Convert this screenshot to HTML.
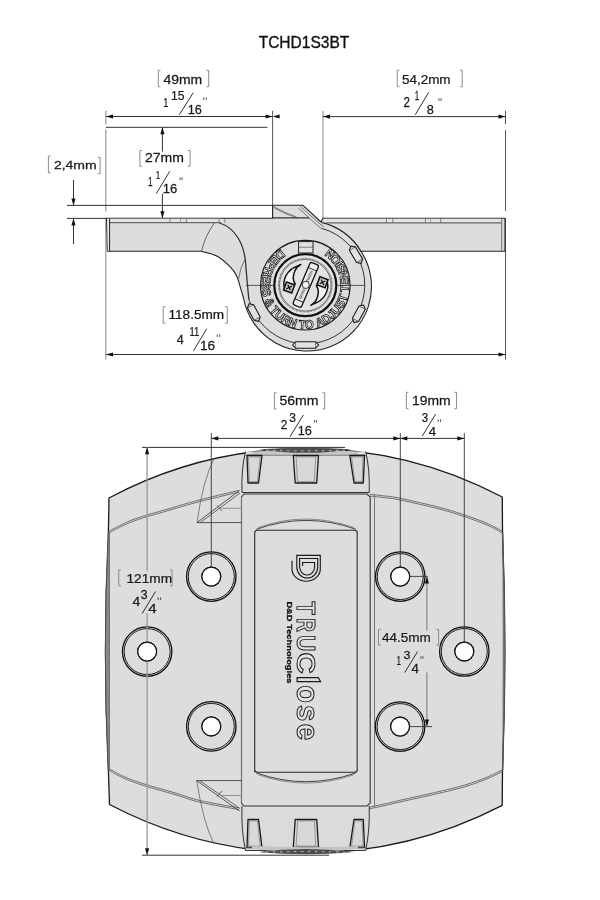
<!DOCTYPE html><html><head><meta charset="utf-8"><style>html,body{margin:0;padding:0;background:#fff;width:600px;height:900px;overflow:hidden}svg{display:block;filter:grayscale(1)}text{font-family:"Liberation Sans",sans-serif}</style></head><body><svg width="600" height="900" viewBox="0 0 600 900"><rect width="600" height="900" fill="#fff"/><text transform="translate(258.65,47.60) scale(0.922,1)" font-size="16.86" fill="#111" stroke="#111" stroke-width="0.35" >TCHD1S3BT</text>
<line x1="105.80" y1="110.80" x2="105.80" y2="124.60" stroke="#9a9a9a" stroke-width="1.2" />
<line x1="105.80" y1="129.60" x2="105.80" y2="211.50" stroke="#9a9a9a" stroke-width="1.2" />
<line x1="105.80" y1="218.50" x2="105.80" y2="359.20" stroke="#9a9a9a" stroke-width="1.2" />
<line x1="272.60" y1="110.80" x2="272.60" y2="218.30" stroke="#555" stroke-width="1.0" />
<line x1="323.00" y1="110.80" x2="323.00" y2="218.30" stroke="#9a9a9a" stroke-width="1.2" />
<line x1="505.50" y1="110.80" x2="505.50" y2="124.00" stroke="#555" stroke-width="1.0" />
<line x1="505.50" y1="130.00" x2="505.50" y2="211.00" stroke="#555" stroke-width="1.0" />
<line x1="505.50" y1="218.00" x2="505.50" y2="359.60" stroke="#555" stroke-width="1.0" />
<line x1="106.00" y1="116.50" x2="272.60" y2="116.50" stroke="#333" stroke-width="1.0" />
<polygon points="106.00,116.50 113.00,114.40 113.00,118.60" fill="#111"/>
<polygon points="272.60,116.50 265.60,114.40 265.60,118.60" fill="#111"/>
<polygon points="272.60,116.50 279.60,114.40 279.60,118.60" fill="#111"/>
<line x1="105.80" y1="127.30" x2="267.50" y2="127.30" stroke="#333" stroke-width="1.0" />
<path d="M160.50,70.40 H158.30 V86.70 H160.50" fill="none" stroke="#8a8a8a" stroke-width="1"/>
<path d="M206.50,70.40 H208.70 V86.70 H206.50" fill="none" stroke="#8a8a8a" stroke-width="1"/>
<text transform="translate(163.38,83.70) scale(1.145,1)" font-size="12.21" fill="#1a1a1a" stroke="#1a1a1a" stroke-width="0.25" >49mm</text>
<text transform="translate(163.29,106.70) scale(0.734,1)" font-size="12.65" fill="#1a1a1a" stroke="#1a1a1a" stroke-width="0.25" >1</text>
<text transform="translate(171.08,100.00) scale(0.955,1)" font-size="12.65" fill="#1a1a1a" stroke="#1a1a1a" stroke-width="0.25" >15</text>
<line x1="193.30" y1="92.70" x2="179.30" y2="114.70" stroke="#1a1a1a" stroke-width="0.9" />
<text transform="translate(187.73,114.00) scale(1.004,1)" font-size="12.65" fill="#1a1a1a" stroke="#1a1a1a" stroke-width="0.25" >16</text>
<line x1="203.75" y1="97.30" x2="203.75" y2="100.00" stroke="#222" stroke-width="0.75" />
<line x1="206.25" y1="97.30" x2="206.25" y2="100.00" stroke="#222" stroke-width="0.75" />
<line x1="323.00" y1="116.60" x2="505.50" y2="116.60" stroke="#333" stroke-width="1.0" />
<polygon points="323.00,116.60 330.00,114.50 330.00,118.70" fill="#111"/>
<polygon points="505.50,116.60 498.50,114.50 498.50,118.70" fill="#111"/>
<path d="M399.45,70.20 H397.25 V86.70 H399.45" fill="none" stroke="#8a8a8a" stroke-width="1"/>
<path d="M460.00,70.20 H462.20 V86.70 H460.00" fill="none" stroke="#8a8a8a" stroke-width="1"/>
<text transform="translate(401.96,83.50) scale(1.029,1)" font-size="13.08" fill="#1a1a1a" stroke="#1a1a1a" stroke-width="0.25" >54,2mm</text>
<text transform="translate(403.42,106.50) scale(0.813,1)" font-size="14.17" fill="#1a1a1a" stroke="#1a1a1a" stroke-width="0.25" >2</text>
<text transform="translate(414.64,99.75) scale(0.667,1)" font-size="11.99" fill="#1a1a1a" stroke="#1a1a1a" stroke-width="0.25" >1</text>
<line x1="428.75" y1="92.25" x2="415.25" y2="114.75" stroke="#1a1a1a" stroke-width="0.9" />
<text transform="translate(426.69,114.00) scale(0.977,1)" font-size="13.08" fill="#1a1a1a" stroke="#1a1a1a" stroke-width="0.25" >8</text>
<line x1="438.95" y1="98.25" x2="438.95" y2="100.95" stroke="#222" stroke-width="0.75" />
<line x1="441.05" y1="98.25" x2="441.05" y2="100.95" stroke="#222" stroke-width="0.75" />
<line x1="162.40" y1="127.30" x2="162.40" y2="151.70" stroke="#333" stroke-width="1.0" />
<line x1="162.40" y1="193.70" x2="162.40" y2="218.30" stroke="#333" stroke-width="1.0" />
<polygon points="162.40,127.30 160.30,134.30 164.50,134.30" fill="#111"/>
<polygon points="162.40,218.30 160.30,211.30 164.50,211.30" fill="#111"/>
<path d="M142.10,150.50 H139.90 V166.25 H142.10" fill="none" stroke="#8a8a8a" stroke-width="1"/>
<path d="M187.90,150.50 H190.10 V166.25 H187.90" fill="none" stroke="#8a8a8a" stroke-width="1"/>
<text transform="translate(145.04,162.40) scale(1.122,1)" font-size="12.50" fill="#1a1a1a" stroke="#1a1a1a" stroke-width="0.25" >27mm</text>
<text transform="translate(148.08,186.10) scale(0.635,1)" font-size="12.79" fill="#1a1a1a" stroke="#1a1a1a" stroke-width="0.25" >1</text>
<text transform="translate(155.63,178.50) scale(0.707,1)" font-size="11.48" fill="#1a1a1a" stroke="#1a1a1a" stroke-width="0.25" >1</text>
<line x1="169.70" y1="171.30" x2="156.25" y2="193.70" stroke="#1a1a1a" stroke-width="0.9" />
<text transform="translate(162.81,193.10) scale(1.091,1)" font-size="11.92" fill="#1a1a1a" stroke="#1a1a1a" stroke-width="0.25" >16</text>
<line x1="180.05" y1="177.30" x2="180.05" y2="180.00" stroke="#222" stroke-width="0.75" />
<line x1="182.05" y1="177.30" x2="182.05" y2="180.00" stroke="#222" stroke-width="0.75" />
<path d="M50.60,156.10 H48.40 V172.80 H50.60" fill="none" stroke="#8a8a8a" stroke-width="1"/>
<path d="M97.90,157.30 H100.10 V173.60 H97.90" fill="none" stroke="#8a8a8a" stroke-width="1"/>
<text transform="translate(53.90,169.30) scale(1.205,1)" font-size="11.63" fill="#1a1a1a" stroke="#1a1a1a" stroke-width="0.25" >2,4mm</text>
<line x1="73.50" y1="180.00" x2="73.50" y2="205.40" stroke="#333" stroke-width="1.0" />
<polygon points="73.50,205.40 71.40,198.40 75.60,198.40" fill="#111"/>
<line x1="73.50" y1="218.50" x2="73.50" y2="244.00" stroke="#333" stroke-width="1.0" />
<polygon points="73.50,218.50 71.40,225.50 75.60,225.50" fill="#111"/>
<line x1="67.00" y1="205.40" x2="272.60" y2="205.40" stroke="#333" stroke-width="1.0" />
<line x1="67.00" y1="218.40" x2="108.00" y2="218.40" stroke="#333" stroke-width="1.0" />
<line x1="106.00" y1="354.50" x2="505.50" y2="354.50" stroke="#333" stroke-width="1.0" />
<polygon points="106.00,354.50 113.00,352.40 113.00,356.60" fill="#111"/>
<polygon points="505.50,354.50 498.50,352.40 498.50,356.60" fill="#111"/>
<path d="M165.40,306.70 H163.20 V323.20 H165.40" fill="none" stroke="#8a8a8a" stroke-width="1"/>
<path d="M225.05,306.70 H227.25 V323.20 H225.05" fill="none" stroke="#8a8a8a" stroke-width="1"/>
<text transform="translate(168.46,319.45) scale(1.075,1)" font-size="12.65" fill="#1a1a1a" stroke="#1a1a1a" stroke-width="0.25" >118.5mm</text>
<text transform="translate(176.71,343.75) scale(1.006,1)" font-size="12.43" fill="#1a1a1a" stroke="#1a1a1a" stroke-width="0.25" >4</text>
<text transform="translate(189.48,336.25) scale(0.758,1)" font-size="12.43" fill="#1a1a1a" stroke="#1a1a1a" stroke-width="0.25" >11</text>
<line x1="206.70" y1="328.75" x2="193.50" y2="350.80" stroke="#1a1a1a" stroke-width="0.9" />
<text transform="translate(199.96,350.20) scale(1.076,1)" font-size="12.65" fill="#1a1a1a" stroke="#1a1a1a" stroke-width="0.25" >16</text>
<line x1="217.20" y1="334.30" x2="217.20" y2="337.00" stroke="#222" stroke-width="0.75" />
<line x1="219.75" y1="334.30" x2="219.75" y2="337.00" stroke="#222" stroke-width="0.75" />
<path d="M106.6,218.3 L272.6,218.3 L272.6,205.3 L303,205.3 L321,222 L323,218.3 L505,218.3 L505,251.3 L361,251.3 A64.5,64.5 0 1 1 243.5,298  C243.13,296.78 242.43,294.37 241.30,290.70 C240.17,287.03 238.58,280.00 236.70,276.00 C234.82,272.00 233.33,270.03 230.00,266.70 C226.67,263.37 221.58,258.57 216.70,256.00 C211.82,253.43 203.37,252.08 200.70,251.30 L107.4,251.3 Z" fill="#dddddd" stroke="#222" stroke-width="1.1" stroke-linejoin="round"/>
<rect x="110" y="218.8" width="111" height="3.9" fill="#e3e3e3"/>
<rect x="324" y="218.8" width="177.5" height="3.9" fill="#e3e3e3"/>
<line x1="109.00" y1="222.70" x2="221.00" y2="222.70" stroke="#3a3a3a" stroke-width="0.9" />
<line x1="326.00" y1="222.90" x2="501.70" y2="222.90" stroke="#3a3a3a" stroke-width="0.9" />
<line x1="501.70" y1="219.00" x2="501.70" y2="251.00" stroke="#555" stroke-width="0.8" />
<path d="M107.2,218.8 L109.6,218.8 L109.6,251 L107.8,251 Z" fill="#eaeaea"/>
<line x1="109.60" y1="218.80" x2="109.60" y2="251.00" stroke="#222" stroke-width="1.0" />
<path d="M170,218.5 V222.7 M186.3,218.5 V222.7" stroke="#555" stroke-width="0.7"/>
<path d="M219,218.5 V222.7 M224.8,218.5 V222.7" stroke="#555" stroke-width="0.7"/>
<path d="M386.5,218.5 V222.7 M392.8,218.5 V222.7" stroke="#555" stroke-width="0.7"/>
<path d="M425.5,218.5 V222.7 M440.7,218.5 V222.7" stroke="#555" stroke-width="0.7"/>
<line x1="180.50" y1="218.50" x2="180.50" y2="222.70" stroke="#777" stroke-width="0.6" />
<line x1="430.50" y1="218.50" x2="430.50" y2="222.70" stroke="#777" stroke-width="0.6" />
<path d="M272.6,206 Q284,212.5 296.5,217" fill="none" stroke="#555" stroke-width="0.7"/>
<path d="M273.5,207.6 Q285,214 297,218" fill="none" stroke="#555" stroke-width="0.7"/>
<line x1="272.60" y1="217.90" x2="309.00" y2="217.90" stroke="#333" stroke-width="1.1" />
<path d="M300.5,206.5 L318,222.3 Q321,225 324,227" fill="none" stroke="#444" stroke-width="0.7"/>
<path d="M298.5,208 L313,221.5 Q318,226 322.5,229.5" fill="none" stroke="#444" stroke-width="0.7"/>
<path d="M214.3,223 Q205,236 201.5,251.5" fill="none" stroke="#444" stroke-width="0.8"/>
<path d="M219.5,223 C236,228 244,245 245.5,262 C247,280 248,292 249,300" fill="none" stroke="#333" stroke-width="1.3"/>
<path d="M244.7,260 Q240,268 238.7,278.7" fill="none" stroke="#444" stroke-width="0.7"/>
<path d="M321.60,222.42 A64.5,64.5 0 0 1 361.11,251.49" fill="none" stroke="#222" stroke-width="1.3"/>
<path d="M322.21,228.48 A58.8,58.8 0 1 1 249.20,300.22" fill="none" stroke="#333" stroke-width="1.0"/>
<g transform="translate(305.6,345) rotate(0)"><polygon points="-13.00,0.00 -10.00,-3.25 10.00,-3.25 13.00,0.00 10.00,3.25 -10.00,3.25" fill="#e2e2e2" stroke="#1a1a1a" stroke-width="1.1"/><line x1="-10.0" y1="-3.25" x2="-10.0" y2="3.25" stroke="#444" stroke-width="0.7"/><line x1="10.0" y1="-3.25" x2="10.0" y2="3.25" stroke="#444" stroke-width="0.7"/></g>
<g transform="translate(253.8,312.5) rotate(62)"><polygon points="-10.00,0.00 -7.00,-3.50 7.00,-3.50 10.00,0.00 7.00,3.50 -7.00,3.50" fill="#e2e2e2" stroke="#1a1a1a" stroke-width="1.1"/><line x1="-7.0" y1="-3.5" x2="-7.0" y2="3.5" stroke="#444" stroke-width="0.7"/><line x1="7.0" y1="-3.5" x2="7.0" y2="3.5" stroke="#444" stroke-width="0.7"/></g>
<g transform="translate(358.8,313.8) rotate(-61.5)"><polygon points="-10.00,0.00 -7.00,-3.50 7.00,-3.50 10.00,0.00 7.00,3.50 -7.00,3.50" fill="#e2e2e2" stroke="#1a1a1a" stroke-width="1.1"/><line x1="-7.0" y1="-3.5" x2="-7.0" y2="3.5" stroke="#444" stroke-width="0.7"/><line x1="7.0" y1="-3.5" x2="7.0" y2="3.5" stroke="#444" stroke-width="0.7"/></g>
<g transform="translate(356,254.7) rotate(59)"><polygon points="-10.00,0.00 -7.00,-3.50 7.00,-3.50 10.00,0.00 7.00,3.50 -7.00,3.50" fill="#e2e2e2" stroke="#1a1a1a" stroke-width="1.1"/><line x1="-7.0" y1="-3.5" x2="-7.0" y2="3.5" stroke="#444" stroke-width="0.7"/><line x1="7.0" y1="-3.5" x2="7.0" y2="3.5" stroke="#444" stroke-width="0.7"/></g>
<circle cx="305.3" cy="285.2" r="44.8" fill="#dddddd" stroke="#1a1a1a" stroke-width="1.1"/>
<g font-size="12" font-weight="bold" fill="#eeeeee" stroke="#1a1a1a" stroke-width="0.8"><text transform="translate(277.61,251.52) rotate(-219.42) scale(0.953,1)" text-anchor="middle">D</text><text transform="translate(271.97,257.09) rotate(-229.86) scale(0.953,1)" text-anchor="middle">E</text><text transform="translate(267.59,263.32) rotate(-239.88) scale(0.953,1)" text-anchor="middle">P</text><text transform="translate(264.25,270.51) rotate(-250.32) scale(0.953,1)" text-anchor="middle">R</text><text transform="translate(262.27,278.19) rotate(-260.75) scale(0.953,1)" text-anchor="middle">E</text><text transform="translate(261.70,285.79) rotate(-270.77) scale(0.953,1)" text-anchor="middle">S</text><text transform="translate(262.47,293.37) rotate(-280.79) scale(0.953,1)" text-anchor="middle">S</text><text transform="translate(265.92,303.90) rotate(-295.40) scale(0.953,1)" text-anchor="middle">&amp;</text><text transform="translate(271.70,312.99) rotate(-309.59) scale(0.953,1)" text-anchor="middle">T</text><text transform="translate(277.05,318.41) rotate(-319.61) scale(0.953,1)" text-anchor="middle">U</text><text transform="translate(283.80,323.13) rotate(-330.46) scale(0.953,1)" text-anchor="middle">R</text><text transform="translate(291.33,326.50) rotate(-341.31) scale(0.953,1)" text-anchor="middle">N</text><text transform="translate(301.87,328.67) rotate(-355.49) scale(0.953,1)" text-anchor="middle">T</text><text transform="translate(309.80,328.57) rotate(-365.92) scale(0.953,1)" text-anchor="middle">O</text><text transform="translate(321.19,325.80) rotate(-381.37) scale(0.953,1)" text-anchor="middle">A</text><text transform="translate(328.54,322.09) rotate(-392.22) scale(0.953,1)" text-anchor="middle">D</text><text transform="translate(334.37,317.69) rotate(-401.82) scale(0.953,1)" text-anchor="middle">J</text><text transform="translate(339.39,312.39) rotate(-411.42) scale(0.953,1)" text-anchor="middle">U</text><text transform="translate(343.75,305.76) rotate(-421.86) scale(0.953,1)" text-anchor="middle">S</text><text transform="translate(346.64,299.07) rotate(-431.46) scale(0.953,1)" text-anchor="middle">T</text><text transform="translate(348.72,289.14) rotate(-444.81) scale(0.953,1)" text-anchor="middle">T</text><text transform="translate(348.77,281.85) rotate(-454.41) scale(0.953,1)" text-anchor="middle">E</text><text transform="translate(347.45,274.03) rotate(-464.84) scale(0.953,1)" text-anchor="middle">N</text><text transform="translate(344.72,266.58) rotate(-475.28) scale(0.953,1)" text-anchor="middle">S</text><text transform="translate(342.12,261.85) rotate(-482.38) scale(0.953,1)" text-anchor="middle">I</text><text transform="translate(338.55,257.00) rotate(-490.31) scale(0.953,1)" text-anchor="middle">O</text><text transform="translate(332.40,251.04) rotate(-501.58) scale(0.953,1)" text-anchor="middle">N</text></g>
<line x1="246.00" y1="285.40" x2="273.00" y2="285.40" stroke="#333" stroke-width="0.8" />
<line x1="337.50" y1="285.40" x2="364.50" y2="285.40" stroke="#333" stroke-width="0.8" />
<rect x="298.6" y="241.6" width="14.4" height="11.4" fill="#e2e2e2" stroke="#222" stroke-width="1"/>
<line x1="298.60" y1="247.20" x2="313.00" y2="247.20" stroke="#555" stroke-width="0.7" />
<circle cx="305.3" cy="285.2" r="31" fill="#e3e3e3" stroke="#111" stroke-width="2.2"/>
<circle cx="305.3" cy="285.2" r="26.7" fill="none" stroke="#666" stroke-width="1.4" stroke-dasharray="0.7,0.7"/>
<circle cx="305.3" cy="285.2" r="25.8" fill="none" stroke="#333" stroke-width="0.6"/>
<path d="M300.80,264.50 C299.22,265.30 293.75,267.50 291.30,269.30 C288.85,271.10 287.33,273.13 286.10,275.30 C284.87,277.47 284.20,280.27 283.90,282.30 C283.60,284.33 284.23,286.63 284.30,287.50 L295.20,284.00 C294.90,283.28 293.62,281.43 293.40,279.70 C293.18,277.97 293.32,275.63 293.90,273.60 C294.48,271.57 295.75,269.02 296.90,267.50 C298.05,265.98 300.15,265.00 300.80,264.50 Z" fill="#f2f2f2" stroke="#111" stroke-width="1.5" stroke-linejoin="round"/>
<path d="M310.80,305.30 C312.38,304.50 317.85,302.30 320.30,300.50 C322.75,298.70 324.27,296.67 325.50,294.50 C326.73,292.33 327.40,289.53 327.70,287.50 C328.00,285.47 327.37,283.17 327.30,282.30 L316.40,285.80 C316.70,286.52 317.98,288.37 318.20,290.10 C318.42,291.83 318.28,294.17 317.70,296.20 C317.12,298.23 315.85,300.78 314.70,302.30 C313.55,303.82 311.45,304.80 310.80,305.30 Z" fill="#f2f2f2" stroke="#111" stroke-width="1.5" stroke-linejoin="round"/>
<g transform="translate(289.1,287.5) rotate(20)"><rect x="-4.3" y="-4.3" width="8.6" height="8.6" fill="#d0d0d0" stroke="#111" stroke-width="1.6"/><path d="M-2.2,-2.2 L2.2,2.2 M2.2,-2.2 L-2.2,2.2" stroke="#111" stroke-width="1.3"/></g>
<g transform="translate(322.5,282.3) rotate(20)"><rect x="-4.3" y="-4.3" width="8.6" height="8.6" fill="#d0d0d0" stroke="#111" stroke-width="1.6"/><path d="M-2.2,-2.2 L2.2,2.2 M2.2,-2.2 L-2.2,2.2" stroke="#111" stroke-width="1.3"/></g>
<g transform="translate(305.8,284.9) rotate(-67)"><rect x="-23" y="-4.6" width="46" height="9.2" rx="2.2" fill="#ececec" stroke="#111" stroke-width="1.3"/><line x1="-17" y1="-4.6" x2="-17" y2="4.6" stroke="#222" stroke-width="0.9"/><line x1="17" y1="-4.6" x2="17" y2="4.6" stroke="#222" stroke-width="0.9"/><line x1="-15" y1="0" x2="-4" y2="0" stroke="#555" stroke-width="3" stroke-dasharray="0.6,0.7"/><line x1="4" y1="0" x2="15" y2="0" stroke="#555" stroke-width="3" stroke-dasharray="0.6,0.7"/></g>
<circle cx="305.8" cy="284.9" r="3.6" fill="#f2f2f2" stroke="#222" stroke-width="0.9"/>
<path d="M109,498 A419.5,419.5 0 0 1 502.3,497 L502.5,532 Q507.3,651 502.5,770.5 L502.2,805.3 A425.4,425.4 0 0 1 109.5,804.5 L108.4,770.7 Q102.5,651 108.4,532 Z" fill="#dddddd" stroke="#1a1a1a" stroke-width="1.3" stroke-linejoin="round"/>
<path d="M108.4,532 Q102.5,651 108.4,770.7 L109.4,770.7 L109.4,532 Z" fill="#8a8a8a" stroke="#555" stroke-width="0.8"/>
<path d="M502.5,532 Q507.3,651 502.5,770.5 L502.9,770.5 Q503.6,651 502.9,532 Z" fill="#8a8a8a" stroke="#555" stroke-width="0.8"/>
<path d="M108.50,531.40 C111.08,530.08 118.75,525.87 124.00,523.50 C129.25,521.13 132.33,519.72 140.00,517.20 C147.67,514.68 160.50,511.17 170.00,508.40 C179.50,505.63 185.50,503.62 197.00,500.60 C208.50,497.58 232.00,492.02 239.00,490.30" fill="none" stroke="#4a4a4a" stroke-width="0.75"/>
<path d="M108.50,533.10 C111.08,531.78 118.75,527.57 124.00,525.20 C129.25,522.83 132.33,521.42 140.00,518.90 C147.67,516.38 160.50,512.87 170.00,510.10 C179.50,507.33 185.50,505.32 197.00,502.30 C208.50,499.28 232.00,493.72 239.00,492.00" fill="none" stroke="#4a4a4a" stroke-width="0.75"/>
<path d="M369.70,494.30 C372.25,494.58 379.95,495.35 385.00,496.00 C390.05,496.65 390.83,496.28 400.00,498.20 C409.17,500.12 429.23,504.70 440.00,507.50 C450.77,510.30 456.80,512.38 464.60,515.00 C472.40,517.62 480.52,520.50 486.80,523.20 C493.08,525.90 499.72,529.87 502.30,531.20" fill="none" stroke="#4a4a4a" stroke-width="0.75"/>
<path d="M369.70,496.00 C372.25,496.28 379.95,497.05 385.00,497.70 C390.05,498.35 390.83,497.98 400.00,499.90 C409.17,501.82 429.23,506.40 440.00,509.20 C450.77,512.00 456.80,514.08 464.60,516.70 C472.40,519.32 480.52,522.20 486.80,524.90 C493.08,527.60 499.72,531.57 502.30,532.90" fill="none" stroke="#4a4a4a" stroke-width="0.75"/>
<path d="M109.50,770.60 C111.92,771.88 118.42,775.85 124.00,778.30 C129.58,780.75 134.50,782.58 143.00,785.30 C151.50,788.02 165.50,791.78 175.00,794.60 C184.50,797.42 189.33,799.70 200.00,802.20 C210.67,804.70 232.50,808.37 239.00,809.60" fill="none" stroke="#4a4a4a" stroke-width="0.75"/>
<path d="M109.50,768.90 C111.92,770.18 118.42,774.15 124.00,776.60 C129.58,779.05 134.50,780.88 143.00,783.60 C151.50,786.32 165.50,790.08 175.00,792.90 C184.50,795.72 189.33,798.00 200.00,800.50 C210.67,803.00 232.50,806.67 239.00,807.90" fill="none" stroke="#4a4a4a" stroke-width="0.75"/>
<path d="M368.50,809.00 C371.25,808.42 379.75,806.67 385.00,805.50 C390.25,804.33 390.83,804.08 400.00,802.00 C409.17,799.92 429.23,795.53 440.00,793.00 C450.77,790.47 456.80,789.13 464.60,786.80 C472.40,784.47 480.52,781.55 486.80,779.00 C493.08,776.45 499.72,772.75 502.30,771.50" fill="none" stroke="#4a4a4a" stroke-width="0.75"/>
<path d="M368.50,807.30 C371.25,806.72 379.75,804.97 385.00,803.80 C390.25,802.63 390.83,802.38 400.00,800.30 C409.17,798.22 429.23,793.83 440.00,791.30 C450.77,788.77 456.80,787.43 464.60,785.10 C472.40,782.77 480.52,779.85 486.80,777.30 C493.08,774.75 499.72,771.05 502.30,769.80" fill="none" stroke="#4a4a4a" stroke-width="0.75"/>
<path d="M245.5,451.5 Q241,470 242,492.5 L369.2,492.5 Q370,470 365.7,451.5" fill="#dbdbdb" stroke="#333" stroke-width="1"/>
<path d="M252,452.3 Q305,445 358,452.3 L358,455 Q305,452.5 252,455 Z" fill="#c4c4c4"/>
<path d="M259,449.2 Q305,446.8 352,449.2 Q305,456.5 259,449.2 Z" fill="#4d4d4d"/>
<path d="M266,450.2 Q305,451.6 345,450.2" fill="none" stroke="#c8c8c8" stroke-width="0.9" stroke-dasharray="2.5,4.5"/>
<line x1="245.50" y1="455.20" x2="366.00" y2="455.20" stroke="#555" stroke-width="0.8" />
<polygon points="247.00,455.50 262.00,455.50 258.50,483.00 248.00,483.00" fill="#d8d8d8" stroke="#1a1a1a" stroke-width="1.3" stroke-linejoin="round"/>
<polygon points="248.51,456.88 260.21,456.88 257.48,481.62 249.29,481.62" fill="none" stroke="#666" stroke-width="0.6"/>
<polygon points="293.30,455.50 318.50,455.50 316.70,483.00 295.20,483.00" fill="#d8d8d8" stroke="#1a1a1a" stroke-width="1.3" stroke-linejoin="round"/>
<polygon points="296.08,456.88 315.73,456.88 314.33,481.62 297.56,481.62" fill="none" stroke="#666" stroke-width="0.6"/>
<polygon points="349.80,455.50 364.50,455.50 363.30,483.00 354.00,483.00" fill="#d8d8d8" stroke="#1a1a1a" stroke-width="1.3" stroke-linejoin="round"/>
<polygon points="351.58,456.88 363.05,456.88 362.11,481.62 354.86,481.62" fill="none" stroke="#666" stroke-width="0.6"/>
<path d="M242,806 Q241,830 245.5,850.5 L365.7,850.5 Q370,830 369.2,806" fill="#dbdbdb" stroke="#333" stroke-width="1"/>
<polygon points="248.00,819.50 258.50,819.50 262.00,847.50 247.00,847.50" fill="#d8d8d8" stroke="#1a1a1a" stroke-width="1.3" stroke-linejoin="round"/>
<polygon points="249.29,820.90 257.48,820.90 260.21,846.10 248.51,846.10" fill="none" stroke="#666" stroke-width="0.6"/>
<polygon points="295.20,819.50 316.70,819.50 318.50,847.50 293.30,847.50" fill="#d8d8d8" stroke="#1a1a1a" stroke-width="1.3" stroke-linejoin="round"/>
<polygon points="297.56,820.90 314.33,820.90 315.73,846.10 296.08,846.10" fill="none" stroke="#666" stroke-width="0.6"/>
<polygon points="354.00,819.50 363.30,819.50 364.50,847.50 349.80,847.50" fill="#d8d8d8" stroke="#1a1a1a" stroke-width="1.3" stroke-linejoin="round"/>
<polygon points="354.86,820.90 362.11,820.90 363.05,846.10 351.58,846.10" fill="none" stroke="#666" stroke-width="0.6"/>
<line x1="245.50" y1="847.50" x2="366.00" y2="847.50" stroke="#555" stroke-width="0.8" />
<path d="M252,846 Q305,848.5 358,846 L358,848.7 Q305,856 252,848.7 Z" fill="#c4c4c4"/>
<path d="M259,852.3 Q305,845.5 352,852.3 Q305,856 259,852.3 Z" fill="#4d4d4d"/>
<path d="M266,852.2 Q305,851 345,852.2" fill="none" stroke="#c8c8c8" stroke-width="0.9" stroke-dasharray="2.5,4.5"/>
<path d="M241.5,497 L244,494 L367,494 L370.2,497 L370.2,803 L367,806 L244,806 L241.5,803 Z" fill="#dddddd" stroke="#333" stroke-width="1.1"/>
<line x1="241.50" y1="497.00" x2="241.50" y2="803.00" stroke="#777" stroke-width="1.1" />
<line x1="374.50" y1="494.00" x2="374.50" y2="808.00" stroke="#777" stroke-width="1.0" />
<path d="M254.7,772.2 V533 Q254.7,530.3 257.5,530.3 H354.5 Q357.3,530.3 357.3,533 V769.5 Q357.3,772.2 354.5,772.2 H257.5 Q254.7,772.2 254.7,769.5 Z" fill="#dddddd" stroke="#2a2a2a" stroke-width="1.1"/>
<line x1="357.30" y1="534.00" x2="357.30" y2="769.00" stroke="#666" stroke-width="1.2" />
<path d="M256.3,529.3 Q306,511.5 356,529.3" fill="none" stroke="#333" stroke-width="0.9"/>
<path d="M258,527.6 Q306,510.5 354,527.6" fill="none" stroke="#666" stroke-width="0.7"/>
<path d="M256,772.8 Q306,790.6 356,772.8" fill="none" stroke="#333" stroke-width="0.9"/>
<path d="M258,774.6 Q306,791.6 354,774.6" fill="none" stroke="#666" stroke-width="0.7"/>
<path d="M239.5,490.5 L197,522.6 L242,522.6" fill="none" stroke="#3a3a3a" stroke-width="0.85"/>
<path d="M240,493 L200.5,522.4" fill="none" stroke="#444" stroke-width="0.8"/>
<path d="M217.5,505.5 L222,511" fill="none" stroke="#444" stroke-width="0.8"/>
<line x1="222.00" y1="508.30" x2="241.50" y2="508.30" stroke="#888" stroke-width="0.9" />
<path d="M213.9,459 Q203,480 197,522.6" fill="none" stroke="#555" stroke-width="0.7"/>
<path d="M239.5,811 L196.7,780.6 L242,780.6" fill="none" stroke="#3a3a3a" stroke-width="0.85"/>
<path d="M240,808.5 L200,780.8" fill="none" stroke="#444" stroke-width="0.8"/>
<path d="M217,796.5 L222,791" fill="none" stroke="#444" stroke-width="0.8"/>
<line x1="220.70" y1="795.50" x2="241.50" y2="795.50" stroke="#888" stroke-width="0.9" />
<path d="M214,844 Q203,822 196.7,780.6" fill="none" stroke="#555" stroke-width="0.7"/>
<circle cx="211.3" cy="576.6" r="24.7" fill="#dddddd" stroke="#111" stroke-width="1.3"/>
<circle cx="211.3" cy="576.6" r="23.0" fill="none" stroke="#1a1a1a" stroke-width="1.0"/>
<circle cx="211.3" cy="576.6" r="9.5" fill="#fff" stroke="#111" stroke-width="1.2"/>
<circle cx="400.25" cy="576.6" r="24.7" fill="#dddddd" stroke="#111" stroke-width="1.3"/>
<circle cx="400.25" cy="576.6" r="23.0" fill="none" stroke="#1a1a1a" stroke-width="1.0"/>
<circle cx="400.25" cy="576.6" r="9.5" fill="#fff" stroke="#111" stroke-width="1.2"/>
<circle cx="147.15" cy="651.6" r="24.7" fill="#dddddd" stroke="#111" stroke-width="1.3"/>
<circle cx="147.15" cy="651.6" r="23.0" fill="none" stroke="#1a1a1a" stroke-width="1.0"/>
<circle cx="147.15" cy="651.6" r="9.5" fill="#fff" stroke="#111" stroke-width="1.2"/>
<circle cx="464.3" cy="651.5" r="24.7" fill="#dddddd" stroke="#111" stroke-width="1.3"/>
<circle cx="464.3" cy="651.5" r="23.0" fill="none" stroke="#1a1a1a" stroke-width="1.0"/>
<circle cx="464.3" cy="651.5" r="9.5" fill="#fff" stroke="#111" stroke-width="1.2"/>
<circle cx="211.3" cy="726.4" r="24.7" fill="#dddddd" stroke="#111" stroke-width="1.3"/>
<circle cx="211.3" cy="726.4" r="23.0" fill="none" stroke="#1a1a1a" stroke-width="1.0"/>
<circle cx="211.3" cy="726.4" r="9.5" fill="#fff" stroke="#111" stroke-width="1.2"/>
<circle cx="400.1" cy="726.6" r="24.7" fill="#dddddd" stroke="#111" stroke-width="1.3"/>
<circle cx="400.1" cy="726.6" r="23.0" fill="none" stroke="#1a1a1a" stroke-width="1.0"/>
<circle cx="400.1" cy="726.6" r="9.5" fill="#fff" stroke="#111" stroke-width="1.2"/>
<path d="M292,560.7 V569 A14.15,12.3 0 0 0 320.3,569 V555.4 H296.8 V567 A10.45,11 0 0 0 317.7,567 V558.5 H299.6 V566.5 A7.5,8.5 0 0 0 314.6,566.5 V562.5 H302.6 V566" fill="none" stroke="#1a1a1a" stroke-width="1.15" stroke-linejoin="miter"/>
<text transform="translate(296.75,601.51) rotate(90) scale(0.859,1)" font-size="25.22" font-weight="bold" fill="#e4e4e4" stroke="#1a1a1a" stroke-width="1.0">T</text>
<text transform="translate(296.75,617.96) rotate(90) scale(0.765,1)" font-size="25.22" font-weight="bold" fill="#e4e4e4" stroke="#1a1a1a" stroke-width="1.0">R</text>
<text transform="translate(296.75,634.94) rotate(90) scale(0.897,1)" font-size="25.22" font-weight="bold" fill="#e4e4e4" stroke="#1a1a1a" stroke-width="1.0">U</text>
<text transform="translate(296.75,652.60) rotate(90) scale(1.165,1)" font-size="25.22" font-weight="bold" fill="#e4e4e4" stroke="#1a1a1a" stroke-width="1.0">C</text>
<text transform="translate(297.00,685.26) rotate(90) scale(0.914,1)" font-size="31.82" font-weight="bold" fill="#e4e4e4" stroke="#1a1a1a" stroke-width="1.0">o</text>
<text transform="translate(297.00,704.97) rotate(90) scale(0.923,1)" font-size="31.82" font-weight="bold" fill="#e4e4e4" stroke="#1a1a1a" stroke-width="1.0">s</text>
<text transform="translate(297.00,723.53) rotate(90) scale(0.944,1)" font-size="31.82" font-weight="bold" fill="#e4e4e4" stroke="#1a1a1a" stroke-width="1.0">e</text>
<path d="M297.1,677.6 L297.1,681.7 L320.8,681.7 L318.2,677.6 Z" fill="none" stroke="#1a1a1a" stroke-width="1.2" stroke-linejoin="round"/>
<text transform="translate(287.00,601.38) rotate(90) scale(1.168,1)" font-size="7.99" font-weight="bold" fill="#111" stroke="#111" stroke-width="0.3">D&amp;D Technologies</text>
<line x1="211.30" y1="433.00" x2="211.30" y2="576.00" stroke="#333" stroke-width="0.9" />
<line x1="400.30" y1="433.00" x2="400.30" y2="576.00" stroke="#333" stroke-width="0.9" />
<line x1="464.30" y1="433.00" x2="464.30" y2="651.40" stroke="#333" stroke-width="0.9" />
<line x1="211.30" y1="438.40" x2="464.30" y2="438.40" stroke="#333" stroke-width="1.0" />
<polygon points="211.30,438.40 218.30,436.30 218.30,440.50" fill="#111"/>
<polygon points="400.30,438.40 393.30,436.30 393.30,440.50" fill="#111"/>
<polygon points="400.30,438.40 407.30,436.30 407.30,440.50" fill="#111"/>
<polygon points="464.30,438.40 457.30,436.30 457.30,440.50" fill="#111"/>
<path d="M276.60,392.70 H274.40 V409.00 H276.60" fill="none" stroke="#8a8a8a" stroke-width="1"/>
<path d="M322.50,392.70 H324.70 V409.00 H322.50" fill="none" stroke="#8a8a8a" stroke-width="1"/>
<text transform="translate(279.44,405.30) scale(1.126,1)" font-size="12.50" fill="#1a1a1a" stroke="#1a1a1a" stroke-width="0.25" >56mm</text>
<text transform="translate(280.70,429.30) scale(0.948,1)" font-size="12.50" fill="#1a1a1a" stroke="#1a1a1a" stroke-width="0.25" >2</text>
<text transform="translate(289.14,422.00) scale(0.951,1)" font-size="12.65" fill="#1a1a1a" stroke="#1a1a1a" stroke-width="0.25" >3</text>
<line x1="303.30" y1="415.00" x2="290.00" y2="436.70" stroke="#1a1a1a" stroke-width="0.9" />
<text transform="translate(297.73,435.30) scale(1.016,1)" font-size="12.50" fill="#1a1a1a" stroke="#1a1a1a" stroke-width="0.25" >16</text>
<line x1="314.45" y1="420.00" x2="314.45" y2="422.70" stroke="#222" stroke-width="0.75" />
<line x1="316.55" y1="420.00" x2="316.55" y2="422.70" stroke="#222" stroke-width="0.75" />
<path d="M408.50,392.30 H406.30 V408.70 H408.50" fill="none" stroke="#8a8a8a" stroke-width="1"/>
<path d="M454.40,392.30 H456.60 V408.70 H454.40" fill="none" stroke="#8a8a8a" stroke-width="1"/>
<text transform="translate(411.94,405.00) scale(1.101,1)" font-size="12.65" fill="#1a1a1a" stroke="#1a1a1a" stroke-width="0.25" >19mm</text>
<text transform="translate(421.87,421.60) scale(0.944,1)" font-size="12.06" fill="#1a1a1a" stroke="#1a1a1a" stroke-width="0.25" >3</text>
<line x1="435.70" y1="414.00" x2="422.30" y2="436.00" stroke="#1a1a1a" stroke-width="0.9" />
<text transform="translate(428.69,435.70) scale(1.089,1)" font-size="12.21" fill="#1a1a1a" stroke="#1a1a1a" stroke-width="0.25" >4</text>
<line x1="438.15" y1="419.30" x2="438.15" y2="422.00" stroke="#222" stroke-width="0.75" />
<line x1="440.55" y1="419.30" x2="440.55" y2="422.00" stroke="#222" stroke-width="0.75" />
<line x1="142.00" y1="447.40" x2="345.00" y2="447.40" stroke="#333" stroke-width="1.0" />
<line x1="142.00" y1="855.20" x2="329.00" y2="855.20" stroke="#333" stroke-width="1.0" />
<line x1="147.10" y1="447.20" x2="147.10" y2="571.00" stroke="#999" stroke-width="1.3" />
<line x1="147.10" y1="613.00" x2="147.10" y2="855.20" stroke="#999" stroke-width="1.3" />
<polygon points="147.10,447.20 145.00,454.20 149.20,454.20" fill="#111"/>
<polygon points="147.10,855.20 145.00,848.20 149.20,848.20" fill="#111"/>
<path d="M120.95,569.90 H118.75 V585.90 H120.95" fill="none" stroke="#8a8a8a" stroke-width="1"/>
<path d="M169.90,569.90 H172.10 V585.90 H169.90" fill="none" stroke="#8a8a8a" stroke-width="1"/>
<text transform="translate(126.46,582.75) scale(1.053,1)" font-size="13.01" fill="#1a1a1a" stroke="#1a1a1a" stroke-width="0.25" >121mm</text>
<text transform="translate(132.43,606.10) scale(1.086,1)" font-size="12.79" fill="#1a1a1a" stroke="#1a1a1a" stroke-width="0.25" >4</text>
<text transform="translate(140.83,599.10) scale(1.026,1)" font-size="11.92" fill="#1a1a1a" stroke="#1a1a1a" stroke-width="0.25" >3</text>
<line x1="155.50" y1="591.50" x2="142.10" y2="613.70" stroke="#1a1a1a" stroke-width="0.9" />
<text transform="translate(148.15,613.10) scale(1.179,1)" font-size="12.79" fill="#1a1a1a" stroke="#1a1a1a" stroke-width="0.25" >4</text>
<line x1="158.05" y1="597.30" x2="158.05" y2="600.00" stroke="#222" stroke-width="0.75" />
<line x1="160.65" y1="597.30" x2="160.65" y2="600.00" stroke="#222" stroke-width="0.75" />
<line x1="400.30" y1="576.40" x2="428.00" y2="576.40" stroke="#333" stroke-width="0.9" />
<line x1="400.10" y1="726.60" x2="432.00" y2="726.60" stroke="#333" stroke-width="0.9" />
<line x1="426.90" y1="576.60" x2="426.90" y2="630.50" stroke="#888" stroke-width="1.2" />
<line x1="426.90" y1="672.50" x2="426.90" y2="726.60" stroke="#888" stroke-width="1.2" />
<polygon points="426.90,576.60 424.80,583.60 429.00,583.60" fill="#111"/>
<polygon points="426.90,726.60 424.80,719.60 429.00,719.60" fill="#111"/>
<path d="M380.70,629.30 H378.50 V645.10 H380.70" fill="none" stroke="#8a8a8a" stroke-width="1"/>
<path d="M436.40,629.30 H438.60 V645.10 H436.40" fill="none" stroke="#8a8a8a" stroke-width="1"/>
<text transform="translate(381.89,641.90) scale(1.021,1)" font-size="13.23" fill="#1a1a1a" stroke="#1a1a1a" stroke-width="0.25" >44.5mm</text>
<text transform="translate(396.58,664.90) scale(0.657,1)" font-size="12.35" fill="#1a1a1a" stroke="#1a1a1a" stroke-width="0.25" >1</text>
<text transform="translate(403.43,658.50) scale(1.084,1)" font-size="11.48" fill="#1a1a1a" stroke="#1a1a1a" stroke-width="0.25" >3</text>
<line x1="417.60" y1="651.50" x2="404.75" y2="672.50" stroke="#1a1a1a" stroke-width="0.9" />
<text transform="translate(411.45,672.50) scale(1.107,1)" font-size="11.92" fill="#1a1a1a" stroke="#1a1a1a" stroke-width="0.25" >4</text>
<line x1="420.95" y1="656.20" x2="420.95" y2="658.90" stroke="#222" stroke-width="0.75" />
<line x1="422.95" y1="656.20" x2="422.95" y2="658.90" stroke="#222" stroke-width="0.75" />
<circle cx="211.3" cy="576.6" r="9.4" fill="#fff" stroke="#111" stroke-width="1.15"/>
<circle cx="400.25" cy="576.6" r="9.4" fill="#fff" stroke="#111" stroke-width="1.15"/>
<circle cx="147.15" cy="651.6" r="9.4" fill="#fff" stroke="#111" stroke-width="1.15"/>
<circle cx="464.3" cy="651.5" r="9.4" fill="#fff" stroke="#111" stroke-width="1.15"/>
<circle cx="211.3" cy="726.4" r="9.4" fill="#fff" stroke="#111" stroke-width="1.15"/>
<circle cx="400.1" cy="726.6" r="9.4" fill="#fff" stroke="#111" stroke-width="1.15"/></svg></body></html>
